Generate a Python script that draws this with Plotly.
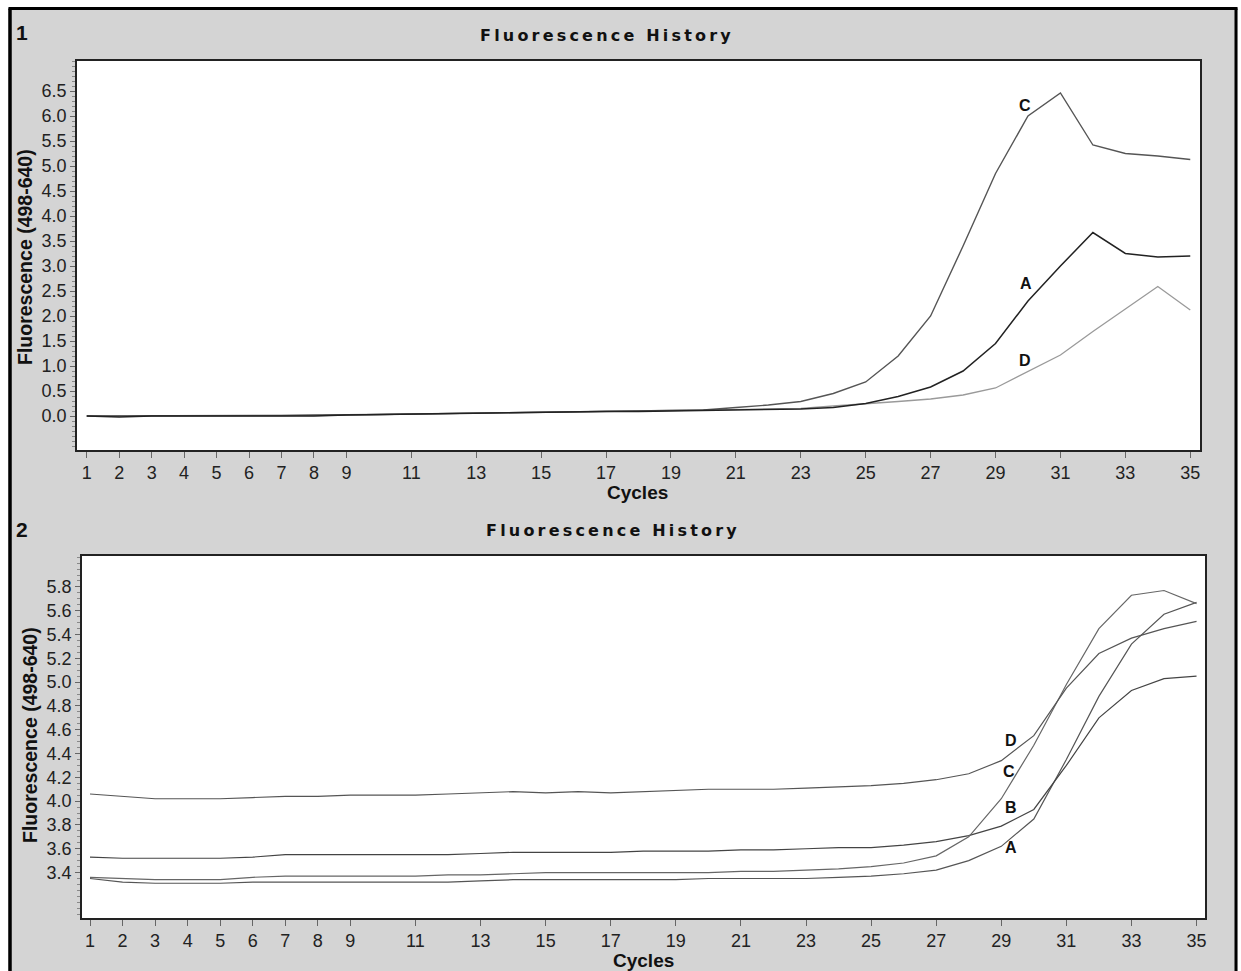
import plotly.graph_objects as go

cycles = list(range(1, 36))

# Panel 1 series
top_A = [0.00, -0.02, 0.00, 0.00, 0.00, 0.01, 0.00, 0.00, 0.02, 0.03, 0.04, 0.05, 0.06, 0.07, 0.08, 0.08, 0.09, 0.09,
         0.10, 0.11, 0.12, 0.13, 0.14, 0.17, 0.25, 0.39, 0.58, 0.90, 1.45, 2.30, 3.00, 3.67, 3.25, 3.18, 3.20]
top_C = [0.00, 0.00, 0.00, 0.00, 0.01, 0.01, 0.01, 0.02, 0.02, 0.03, 0.04, 0.05, 0.06, 0.07, 0.08, 0.09, 0.10, 0.10,
         0.11, 0.12, 0.17, 0.22, 0.29, 0.45, 0.68, 1.20, 2.00, 3.40, 4.85, 6.00, 6.46, 5.42, 5.25, 5.20, 5.13]
top_D = [0.00, 0.00, 0.00, 0.00, 0.00, 0.00, 0.01, 0.01, 0.02, 0.03, 0.04, 0.05, 0.06, 0.07, 0.08, 0.08, 0.09, 0.10,
         0.11, 0.12, 0.13, 0.14, 0.15, 0.20, 0.24, 0.29, 0.34, 0.42, 0.56, 0.89, 1.22, 1.69, 2.14, 2.59, 2.12]

# Panel 2 series
bot_A = [3.35, 3.32, 3.31, 3.31, 3.31, 3.32, 3.32, 3.32, 3.32, 3.32, 3.32, 3.32, 3.33, 3.34, 3.34, 3.34, 3.34, 3.34,
         3.34, 3.35, 3.35, 3.35, 3.35, 3.36, 3.37, 3.39, 3.42, 3.50, 3.62, 3.85, 4.35, 4.88, 5.32, 5.57, 5.67]
bot_B = [3.53, 3.52, 3.52, 3.52, 3.52, 3.53, 3.55, 3.55, 3.55, 3.55, 3.55, 3.55, 3.56, 3.57, 3.57, 3.57, 3.57, 3.58,
         3.58, 3.58, 3.59, 3.59, 3.60, 3.61, 3.61, 3.63, 3.66, 3.71, 3.79, 3.93, 4.30, 4.70, 4.93, 5.03, 5.05]
bot_C = [3.36, 3.35, 3.34, 3.34, 3.34, 3.36, 3.37, 3.37, 3.37, 3.37, 3.37, 3.38, 3.38, 3.39, 3.40, 3.40, 3.40, 3.40,
         3.40, 3.40, 3.41, 3.41, 3.42, 3.43, 3.45, 3.48, 3.54, 3.70, 4.02, 4.47, 4.98, 5.45, 5.73, 5.77, 5.66]
bot_D = [4.06, 4.04, 4.02, 4.02, 4.02, 4.03, 4.04, 4.04, 4.05, 4.05, 4.05, 4.06, 4.07, 4.08, 4.07, 4.08, 4.07, 4.08,
         4.09, 4.10, 4.10, 4.10, 4.11, 4.12, 4.13, 4.15, 4.18, 4.23, 4.34, 4.55, 4.95, 5.24, 5.37, 5.45, 5.51]

x_tick_vals = [1, 2, 3, 4, 5, 6, 7, 8, 9, 11, 13, 15, 17, 19, 21, 23, 25, 27, 29, 31, 33, 35]
top_y_ticks = [0.0, 0.5, 1.0, 1.5, 2.0, 2.5, 3.0, 3.5, 4.0, 4.5, 5.0, 5.5, 6.0, 6.5]
bot_y_ticks = [3.4, 3.6, 3.8, 4.0, 4.2, 4.4, 4.6, 4.8, 5.0, 5.2, 5.4, 5.6, 5.8]

top_labels = [("C", 29.9, 6.22), ("A", 29.95, 2.66), ("D", 29.9, 1.12)]
bot_labels = [("D", 29.3, 4.51), ("C", 29.25, 4.245), ("B", 29.3, 3.95), ("A", 29.3, 3.607)]

W, H = 1241, 971
BG = "#d4d4d4"
TICKFONT = dict(family="Liberation Sans, Arial, sans-serif", size=18, color="#222")


def px(x):
    return x / W


def py(y):
    return 1 - y / H


fig = go.Figure()

for name, ys, col, wd in [("D", top_D, "#9a9a9a", 1.3), ("C", top_C, "#555555", 1.4), ("A", top_A, "#222222", 1.5)]:
    fig.add_trace(go.Scatter(x=cycles, y=ys, mode="lines", name=name, xaxis="x", yaxis="y",
                             line=dict(color=col, width=wd)))

for name, ys, col in [("A", bot_A, "#555555"), ("B", bot_B, "#444444"), ("C", bot_C, "#666666"), ("D", bot_D, "#555555")]:
    fig.add_trace(go.Scatter(x=cycles, y=ys, mode="lines", name=name, xaxis="x2", yaxis="y2",
                             line=dict(color=col, width=1.2)))

axis_common = dict(showgrid=False, zeroline=False, showline=True, linecolor="#222", linewidth=1.5,
                   mirror=True, ticks="outside", tickcolor="#666", tickfont=TICKFONT, fixedrange=True)

fig.update_layout(
    template="none",
    width=W, height=H, margin=dict(l=0, r=0, t=0, b=0), autosize=False,
    paper_bgcolor=BG, plot_bgcolor="#ffffff", showlegend=False,
    xaxis=dict(domain=[px(77), px(1200)], range=[0.70, 35.30], anchor="y",
               tickvals=x_tick_vals, ticklen=6, **axis_common),
    yaxis=dict(domain=[py(450), py(61)], range=[-0.68, 7.1], anchor="x",
               tickvals=top_y_ticks, ticktext=[f"{v:.1f}" for v in top_y_ticks], ticklen=5,
               minor=dict(dtick=0.1, tick0=0, ticks="outside", ticklen=3, tickcolor="#888"),
               **axis_common),
    xaxis2=dict(domain=[px(82), px(1205)], range=[0.754, 35.26], anchor="y2",
                tickvals=x_tick_vals, ticklen=6, **axis_common),
    yaxis2=dict(domain=[py(918), py(556)], range=[3.018, 6.06], anchor="x2",
                tickvals=bot_y_ticks, ticktext=[f"{v:.1f}" for v in bot_y_ticks], ticklen=5,
                minor=dict(dtick=0.05, tick0=0, ticks="outside", ticklen=3, tickcolor="#888"),
                **axis_common),
)

shapes = [
    # white plotting areas
    dict(type="rect", xref="x domain", yref="y domain", x0=0, x1=1, y0=0, y1=1,
         fillcolor="white", line=dict(width=0), layer="below"),
    dict(type="rect", xref="x2 domain", yref="y2 domain", x0=0, x1=1, y0=0, y1=1,
         fillcolor="white", line=dict(width=0), layer="below"),
    # white margin outside the black frame, then the frame itself
    dict(type="rect", xref="paper", yref="paper", x0=0, x1=px(8.5), y0=-0.01, y1=1.01,
         fillcolor="white", line=dict(width=0), layer="above"),
    dict(type="rect", xref="paper", yref="paper", x0=0, x1=1.01, y0=py(7), y1=1.01,
         fillcolor="white", line=dict(width=0), layer="above"),
    dict(type="rect", xref="paper", yref="paper", x0=px(1237.5), x1=1.01, y0=-0.01, y1=1.01,
         fillcolor="white", line=dict(width=0), layer="above"),
    dict(type="line", xref="paper", yref="paper", x0=px(10), x1=px(10), y0=-0.01, y1=py(8.5),
         line=dict(color="black", width=3.5), layer="above"),
    dict(type="line", xref="paper", yref="paper", x0=px(8.5), x1=px(1237.5), y0=py(8.5), y1=py(8.5),
         line=dict(color="black", width=3), layer="above"),
    dict(type="line", xref="paper", yref="paper", x0=px(1236), x1=px(1236), y0=-0.01, y1=py(8.5),
         line=dict(color="black", width=3), layer="above"),
]
fig.update_layout(shapes=shapes)

annotations = []
title_font = dict(family="DejaVu Sans, Verdana, sans-serif", size=16, color="#111")
spaced = "\u2009".join("Fluorescence History")
annotations.append(dict(text="<b>" + spaced + "</b>", x=px(605), y=py(36), xref="paper", yref="paper",
                        showarrow=False, font=title_font, xanchor="center", yanchor="middle"))
annotations.append(dict(text="<b>" + spaced + "</b>", x=px(611), y=py(530), xref="paper", yref="paper",
                        showarrow=False, font=title_font, xanchor="center", yanchor="middle"))
lab_font = dict(family="Liberation Sans, Arial, sans-serif", size=19, color="#111")
for txt, x, y in [("Cycles", 637, 492), ("Cycles", 643, 960)]:
    annotations.append(dict(text="<b>" + txt + "</b>", x=px(x), y=py(y), xref="paper", yref="paper",
                            showarrow=False, font=lab_font, xanchor="center", yanchor="middle"))
for x, y in [(25, 257), (30, 735)]:
    annotations.append(dict(text="<b>Fluorescence (498-640)</b>", x=px(x), y=py(y), xref="paper", yref="paper",
                            showarrow=False, font=dict(family="Liberation Sans, Arial, sans-serif", size=19.5, color="#111"),
                            textangle=-90, xanchor="center", yanchor="middle"))
for txt, x, y in [("1", 22, 33), ("2", 22, 529)]:
    annotations.append(dict(text="<b>" + txt + "</b>", x=px(x), y=py(y), xref="paper", yref="paper",
                            showarrow=False, font=dict(family="Liberation Sans, Arial, sans-serif", size=21, color="#111"),
                            xanchor="center", yanchor="middle"))
curve_font = dict(family="Liberation Sans, Arial, sans-serif", size=16, color="#111")
for txt, x, y in top_labels:
    annotations.append(dict(text="<b>" + txt + "</b>", x=x, y=y, xref="x", yref="y", showarrow=False,
                            font=curve_font, xanchor="center", yanchor="middle"))
for txt, x, y in bot_labels:
    annotations.append(dict(text="<b>" + txt + "</b>", x=x, y=y, xref="x2", yref="y2", showarrow=False,
                            font=curve_font, xanchor="center", yanchor="middle"))
fig.update_layout(annotations=annotations)

fig.write_html("out.html", config={"displayModeBar": False},
               post_script="document.body.style.margin='0';document.body.style.overflow='hidden';")
